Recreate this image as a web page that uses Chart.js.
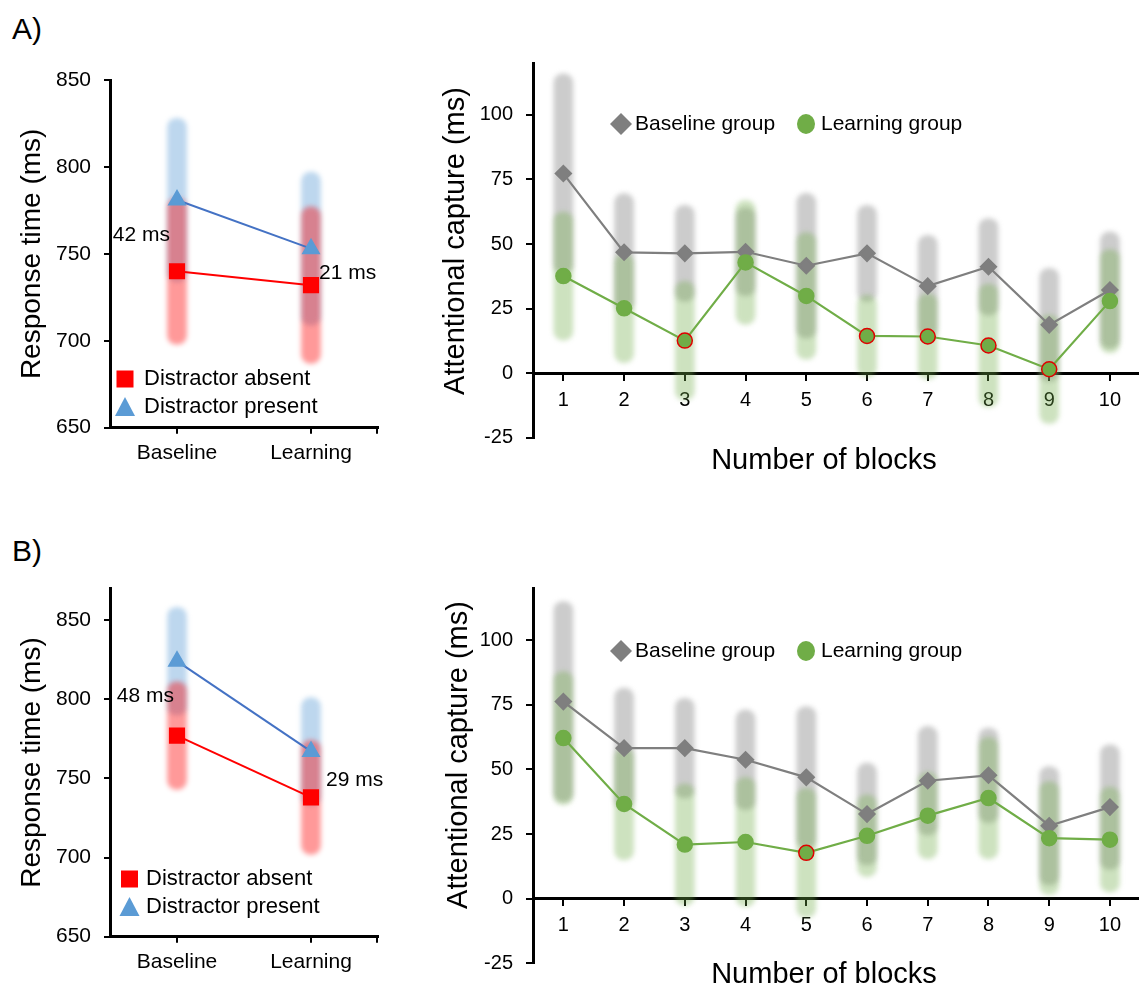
<!DOCTYPE html>
<html>
<head>
<meta charset="utf-8">
<script src="https://cdn.jsdelivr.net/npm/chart.js@4.4.1/dist/chart.umd.min.js"></script>
<style>
  html, body { margin: 0; padding: 0; background: #fff; overflow: hidden; }
  body { width: 1139px; height: 990px; position: relative; font-family: "Liberation Sans", Arial, sans-serif; }
  canvas { position: absolute; }
  .tag { position: absolute; left: 12px; font-size: 30px; line-height: 30px; color: #000; }
</style>
</head>
<body>
<div class="tag" style="top:14px">A)</div>
<div class="tag" style="top:536px">B)</div>
<canvas id="rtA" width="420" height="480" style="left:0; top:0"></canvas>
<canvas id="capA" width="720" height="500" style="left:430px; top:0"></canvas>
<canvas id="rtB" width="420" height="470" style="left:0; top:520px"></canvas>
<canvas id="capB" width="720" height="470" style="left:430px; top:520px"></canvas>
<script>
// Response times (ms), left panels
const conditions = ["Baseline", "Learning"];

const absentA = [740, 732];
const presentA = [781, 753];
const absentErrA = [42, 45];
const presentErrA = [47, 44];
const diffLabelA = ["42 ms", "21 ms"];
const diffYA = [761, 739];

const absentB = [777, 738];
const presentB = [824, 767];
const absentErrB = [34, 36];
const presentErrB = [34, 34];
const diffLabelB = ["48 ms", "29 ms"];
const diffYB = [802, 749];

// Attentional capture (ms) per block, right panels
const blocks = ["1", "2", "3", "4", "5", "6", "7", "8", "9", "10"];

const baseCapA = [77.3, 46.8, 46.4, 47.0, 41.6, 46.4, 33.7, 41.2, 18.7, 32.2];
const learnCapA = [37.6, 25.1, 12.6, 42.9, 29.9, 14.4, 14.2, 10.7, 1.5, 27.9];
const baseErrA = [38.6, 22.7, 18.6, 17, 28, 18.6, 19.7, 18.7, 21.9, 22.5];
const learnErrA = [24.8, 21, 23, 24, 24.5, 15.8, 16.5, 23.8, 21, 20];
const nsBlocksA = [3, 6, 7, 8, 9]; // learning points with red outline

const baseCapB = [76.2, 58.2, 58.2, 53.7, 46.9, 32.7, 45.6, 47.7, 28.2, 35.4];
const learnCapB = [62.1, 36.6, 20.9, 21.9, 17.7, 24.3, 32.1, 38.9, 23.4, 22.8];
const baseErrB = [38.7, 23.2, 19.3, 19.3, 27.4, 19.7, 21, 18.3, 22.9, 24.1];
const learnErrB = [25.7, 21.6, 23.5, 25, 25, 15.8, 16.7, 23.5, 21.9, 20.3];
const nsBlocksB = [5];

Chart.defaults.font.family = '"Liberation Sans", Arial, sans-serif';
Chart.defaults.color = "#000";

const range = (m, e) => m.map((v, i) => [v - e[i], v + e[i]]);

// soft, blurred error bands
const band = { barThickness: 19, borderRadius: 9, borderSkipped: false, grouped: false };
const blurBands = {
  id: "blurBands",
  beforeDatasetDraw(chart, args) {
    if (args.meta.type !== "bar") return;
    chart.ctx.save();
    chart.ctx.filter = "blur(2.5px)";
  },
  afterDatasetDraw(chart, args) {
    if (args.meta.type !== "bar") return;
    chart.ctx.restore();
  }
};

const axisLine = { color: "#000", width: 3 };
const tickMarks = (len) => ({ display: true, drawOnChartArea: false, offset: false, tickLength: len, color: "#000", lineWidth: 2 });

function rtChart(id, absent, present, absentErr, presentErr, diffLabel, diffY, look) {
  const extras = {
    id: "rtExtras",
    afterDraw(chart) {
      const ctx = chart.ctx, xs = chart.scales.x, ys = chart.scales.y;
      ctx.save();
      ctx.fillStyle = "#000";
      ctx.font = '21px "Liberation Sans", Arial, sans-serif';
      ctx.textBaseline = "middle";
      ctx.textAlign = "right";
      ctx.fillText(diffLabel[0], xs.getPixelForValue(0) - look.dx[0], ys.getPixelForValue(diffY[0]));
      ctx.textAlign = "left";
      ctx.fillText(diffLabel[1], xs.getPixelForValue(1) + look.dx[1], ys.getPixelForValue(diffY[1]));

      // small tick at the right end of the x axis
      ctx.strokeStyle = "#000";
      ctx.lineWidth = 2;
      ctx.beginPath();
      ctx.moveTo(chart.chartArea.right - 1, chart.chartArea.bottom);
      ctx.lineTo(chart.chartArea.right - 1, chart.chartArea.bottom + 6);
      ctx.stroke();

      // legend
      const [lx, ly] = look.legend;
      ctx.fillStyle = "#ff0000";
      ctx.fillRect(lx - 8.5, ly - 8.5, 17, 17);
      ctx.fillStyle = "#5b9bd5";
      ctx.beginPath();
      ctx.moveTo(lx, ly + 28 - 10);
      ctx.lineTo(lx + 10, ly + 28 + 9);
      ctx.lineTo(lx - 10, ly + 28 + 9);
      ctx.closePath();
      ctx.fill();
      ctx.fillStyle = "#000";
      ctx.font = '22px "Liberation Sans", Arial, sans-serif';
      ctx.fillText("Distractor absent", look.legendText, ly);
      ctx.fillText("Distractor present", look.legendText, ly + 28);
      ctx.restore();
    }
  };

  new Chart(document.getElementById(id), {
    type: "bar",
    data: {
      labels: conditions,
      datasets: [
        { type: "line", label: "Distractor present", data: present, borderColor: "#4472c4", borderWidth: 2,
          pointStyle: "triangle", pointRadius: 9, pointBackgroundColor: "#5b9bd5", pointBorderColor: "#5b9bd5", order: 0 },
        { type: "line", label: "Distractor absent", data: absent, borderColor: "#ff0000", borderWidth: 2,
          pointStyle: "rect", pointRadius: 10, pointBackgroundColor: "#ff0000", pointBorderColor: "#ff0000", order: 1 },
        { data: range(absent, absentErr), backgroundColor: "rgba(255,0,0,0.4)", order: 2, ...band },
        { data: range(present, presentErr), backgroundColor: "rgba(91,155,213,0.4)", order: 3, ...band }
      ]
    },
    options: {
      responsive: false,
      animation: false,
      events: [],
      layout: { padding: { top: look.top, right: 42, bottom: 0, left: 0 } },
      plugins: { legend: { display: false }, tooltip: { enabled: false } },
      scales: {
        x: {
          offset: true,
          grid: tickMarks(6),
          border: axisLine,
          ticks: { font: { size: 21 }, padding: 7 },
          afterFit: (s) => { s.height = look.xh; }
        },
        y: {
          min: 650,
          max: look.max,
          ticks: { stepSize: 50, includeBounds: false, font: { size: 21 }, padding: 13 },
          grid: tickMarks(6),
          border: axisLine,
          title: { display: true, text: "Response time (ms)", font: { size: 28 }, padding: { top: 15, bottom: 0 } },
          afterFit: (s) => { s.width = 110; }
        }
      }
    },
    plugins: [blurBands, extras]
  });
}

function capChart(id, base, learn, baseErr, learnErr, nsBlocks, look) {
  const learnEdge = blocks.map((b) => (nsBlocks.includes(Number(b)) ? "#e00000" : "#70ad47"));

  const extras = {
    id: "capExtras",
    afterDraw(chart) {
      const ctx = chart.ctx;
      ctx.save();
      ctx.fillStyle = "#000";
      ctx.font = '29px "Liberation Sans", Arial, sans-serif';
      ctx.textAlign = "center";
      ctx.textBaseline = "middle";
      ctx.fillText("Number of blocks", 394, look.xTitleY);
      ctx.translate(look.yTitle[0], look.yTitle[1]);
      ctx.rotate(-Math.PI / 2);
      ctx.fillText("Attentional capture (ms)", 0, 0);
      ctx.restore();

      // legend
      const ly = look.legendY;
      ctx.save();
      ctx.fillStyle = "#7f7f7f";
      ctx.beginPath();
      ctx.moveTo(191, ly - 11);
      ctx.lineTo(202, ly);
      ctx.lineTo(191, ly + 11);
      ctx.lineTo(180, ly);
      ctx.closePath();
      ctx.fill();
      ctx.fillStyle = "#70ad47";
      ctx.beginPath();
      ctx.ellipse(376, ly, 9, 10, 0, 0, Math.PI * 2);
      ctx.fill();
      ctx.fillStyle = "#000";
      ctx.font = '21px "Liberation Sans", Arial, sans-serif';
      ctx.textBaseline = "middle";
      ctx.fillText("Baseline group", 205, ly);
      ctx.fillText("Learning group", 391, ly);
      ctx.restore();
    }
  };

  new Chart(document.getElementById(id), {
    type: "bar",
    data: {
      labels: blocks,
      datasets: [
        { type: "line", label: "Learning group", data: learn, borderColor: "#70ad47", borderWidth: 2.2,
          pointStyle: "circle", pointRadius: 7.5, pointBackgroundColor: "#70ad47",
          pointBorderColor: learnEdge, pointBorderWidth: 1.5, order: 0 },
        { type: "line", label: "Baseline group", data: base, borderColor: "#7f7f7f", borderWidth: 2.2,
          pointStyle: "rectRot", pointRadius: 7.5, pointBackgroundColor: "#7f7f7f", pointBorderColor: "#7f7f7f", order: 1 },
        { data: range(learn, learnErr), backgroundColor: "rgba(112,173,71,0.35)", order: 2, ...band },
        { data: range(base, baseErr), backgroundColor: "rgba(128,128,128,0.4)", order: 3, ...band }
      ]
    },
    options: {
      responsive: false,
      animation: false,
      events: [],
      layout: { padding: { top: look.top, right: 6, bottom: look.bottom, left: 0 } },
      plugins: { legend: { display: false }, tooltip: { enabled: false } },
      scales: {
        x: {
          position: { y: 0 },
          offset: true,
          grid: tickMarks(6),
          border: axisLine,
          ticks: { font: { size: 20 }, padding: 9 }
        },
        y: {
          min: -25,
          max: 120,
          ticks: { stepSize: 25, includeBounds: false, font: { size: 20 }, padding: 13 },
          grid: tickMarks(7),
          border: axisLine,
          afterFit: (s) => { s.width = 103; }
        }
      }
    },
    plugins: [blurBands, extras]
  });
}

rtChart("rtA", absentA, presentA, absentErrA, presentErrA, diffLabelA, diffYA,
  { top: 80, xh: 52.3, max: 850, dx: [7, 8], legend: [125, 379], legendText: 144 });
rtChart("rtB", absentB, presentB, absentErrB, presentErrB, diffLabelB, diffYB,
  { top: 68.3, xh: 53.3, max: 870, dx: [3, 15], legend: [129.5, 359], legendText: 146 });

capChart("capA", baseCapA, learnCapA, baseErrA, learnErrA, nsBlocksA,
  { top: 63.3, bottom: 62.3, xTitleY: 461, yTitle: [26, 241], legendY: 124 });
capChart("capB", baseCapB, learnCapB, baseErrB, learnErrB, nsBlocksB,
  { top: 68.3, bottom: 26.7, xTitleY: 455, yTitle: [29, 235], legendY: 131 });
</script>
</body>
</html>
